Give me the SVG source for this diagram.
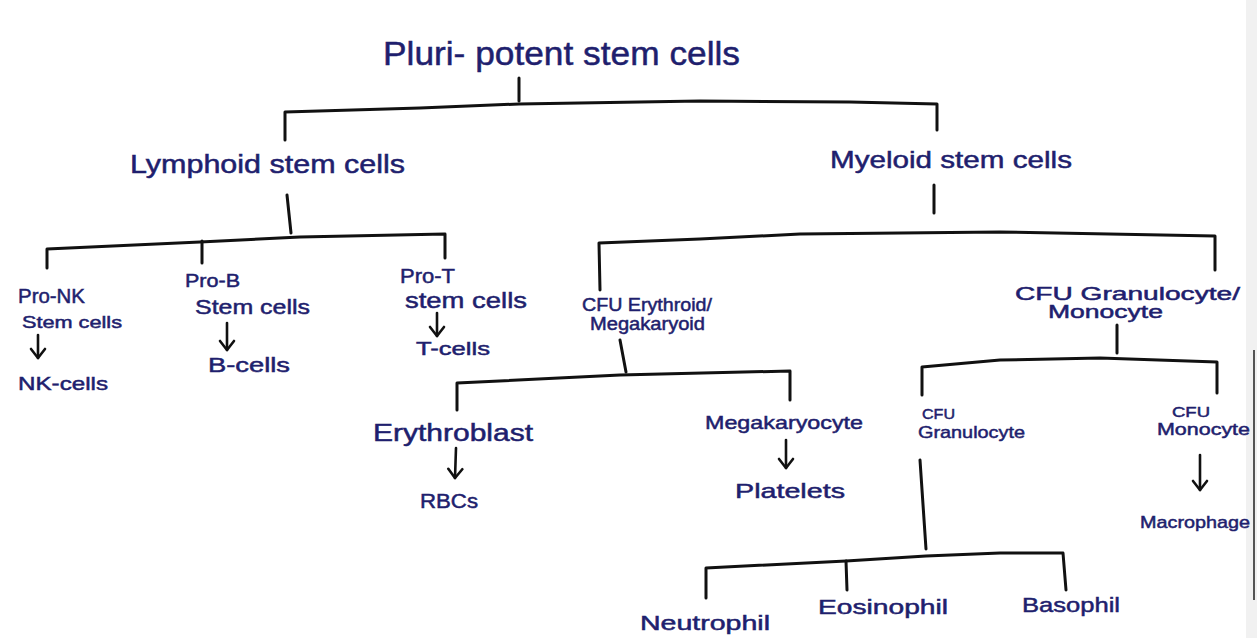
<svg xmlns="http://www.w3.org/2000/svg" width="1257" height="638" viewBox="0 0 1257 638">
<defs>
<style>
.t{font-family:"Liberation Sans","Open Sans",sans-serif;fill:#1f1f6e;stroke:#1f1f6e;stroke-width:0.5;}
.c{fill:none;stroke:#111;stroke-width:3;stroke-linecap:round;stroke-linejoin:round;}
.a{fill:none;stroke:#111;stroke-width:2.6;stroke-linecap:round;stroke-linejoin:round;}
</style>
<marker id="ah" markerUnits="userSpaceOnUse" markerWidth="14" markerHeight="18" refX="11" refY="9" orient="auto" viewBox="0 0 14 18">
<path d="M2,2 L11,9 L2,16" fill="none" stroke="#111" stroke-width="2.6" stroke-linecap="round" stroke-linejoin="round"/>
</marker>
</defs>
<rect width="1257" height="638" fill="#ffffff"/>
<rect x="1246" y="0" width="11" height="638" fill="#f1f1f1"/>
<line x1="1254" y1="350" x2="1254" y2="600" stroke="#555" stroke-width="2"/>

<g id="connectors">
<polyline class="c" points="519,78 519,101"/>
<polyline class="c" points="285,140 285,112 420,108 519,104 700,101 850,102 937,104 937,130"/>
<polyline class="c" points="287,195 291,233"/>
<polyline class="c" points="47,268 47,249 200,242 300,237 445,234 445,258"/>
<polyline class="c" points="202,241 202,263"/>
<polyline class="c" points="934,185 934,213"/>
<polyline class="c" points="600,290 599,243 700,239 800,234 1000,232 1215,236 1215,270"/>
<polyline class="c" points="620,340 626,372"/>
<polyline class="c" points="457,410 457,383 620,375 790,371 790,400"/>
<polyline class="c" points="1117,325 1117,353"/>
<polyline class="c" points="922,395 922,367 1000,360 1100,358 1217,362 1217,393"/>
<polyline class="c" points="920,460 926,549"/>
<polyline class="c" points="706,598 706,568 846,561 926,556 1000,553 1063,553 1066,590"/>
<polyline class="c" points="846,561 847,590"/>
<line class="a" x1="38" y1="335" x2="38" y2="358" marker-end="url(#ah)"/>
<line class="a" x1="227" y1="323" x2="227" y2="350" marker-end="url(#ah)"/>
<line class="a" x1="437" y1="313" x2="437" y2="336" marker-end="url(#ah)"/>
<line class="a" x1="456" y1="448" x2="455" y2="478" marker-end="url(#ah)"/>
<line class="a" x1="786" y1="440" x2="786" y2="468" marker-end="url(#ah)"/>
<line class="a" x1="1200" y1="455" x2="1200" y2="490" marker-end="url(#ah)"/>
</g>

<g id="pluripotent"><text class="t" x="383" y="65" font-size="33" textLength="357" lengthAdjust="spacingAndGlyphs">Pluri- potent stem cells</text></g>
<g id="lymphoid"><text class="t" x="130" y="173" font-size="25" textLength="275" lengthAdjust="spacingAndGlyphs">Lymphoid stem cells</text></g>
<g id="myeloid"><text class="t" x="830" y="168" font-size="24" textLength="242" lengthAdjust="spacingAndGlyphs">Myeloid stem cells</text></g>

<g id="pro-nk">
<text class="t" x="18" y="303" font-size="21" textLength="67" lengthAdjust="spacingAndGlyphs">Pro-NK</text>
<text class="t" x="22" y="328" font-size="17" textLength="100" lengthAdjust="spacingAndGlyphs">Stem cells</text>
</g>
<g id="nk-cells"><text class="t" x="18" y="390" font-size="19" textLength="90" lengthAdjust="spacingAndGlyphs">NK-cells</text></g>

<g id="pro-b">
<text class="t" x="185" y="287" font-size="18" textLength="55" lengthAdjust="spacingAndGlyphs">Pro-B</text>
<text class="t" x="195" y="314" font-size="21" textLength="115" lengthAdjust="spacingAndGlyphs">Stem cells</text>
</g>
<g id="b-cells"><text class="t" x="208" y="372" font-size="20" textLength="82" lengthAdjust="spacingAndGlyphs">B-cells</text></g>

<g id="pro-t">
<text class="t" x="400" y="283" font-size="20" textLength="55" lengthAdjust="spacingAndGlyphs">Pro-T</text>
<text class="t" x="405" y="308" font-size="22" textLength="122" lengthAdjust="spacingAndGlyphs">stem cells</text>
</g>
<g id="t-cells"><text class="t" x="416" y="355" font-size="19" textLength="74" lengthAdjust="spacingAndGlyphs">T-cells</text></g>

<g id="cfu-erythroid">
<text class="t" x="582" y="311" font-size="18" textLength="130" lengthAdjust="spacingAndGlyphs">CFU Erythroid/</text>
<text class="t" x="590" y="330" font-size="18" textLength="115" lengthAdjust="spacingAndGlyphs">Megakaryoid</text>
</g>
<g id="cfu-gm">
<text class="t" x="1015" y="300" font-size="18" textLength="225" lengthAdjust="spacingAndGlyphs">CFU Granulocyte/</text>
<text class="t" x="1048" y="318" font-size="18" textLength="115" lengthAdjust="spacingAndGlyphs">Monocyte</text>
</g>

<g id="erythroblast"><text class="t" x="373" y="441" font-size="23" textLength="160" lengthAdjust="spacingAndGlyphs">Erythroblast</text></g>
<g id="rbcs"><text class="t" x="420" y="508" font-size="20" textLength="58" lengthAdjust="spacingAndGlyphs">RBCs</text></g>
<g id="megakaryocyte"><text class="t" x="705" y="429" font-size="19" textLength="158" lengthAdjust="spacingAndGlyphs">Megakaryocyte</text></g>
<g id="platelets"><text class="t" x="735" y="498" font-size="21" textLength="110" lengthAdjust="spacingAndGlyphs">Platelets</text></g>

<g id="cfu-granulocyte">
<text class="t" x="922" y="419" font-size="15" textLength="33" lengthAdjust="spacingAndGlyphs">CFU</text>
<text class="t" x="918" y="438" font-size="17" textLength="107" lengthAdjust="spacingAndGlyphs">Granulocyte</text>
</g>
<g id="cfu-monocyte">
<text class="t" x="1172" y="417" font-size="15" textLength="38" lengthAdjust="spacingAndGlyphs">CFU</text>
<text class="t" x="1157" y="435" font-size="17" textLength="93" lengthAdjust="spacingAndGlyphs">Monocyte</text>
</g>
<g id="macrophage"><text class="t" x="1140" y="528" font-size="17" textLength="110" lengthAdjust="spacingAndGlyphs">Macrophage</text></g>

<g id="neutrophil"><text class="t" x="640" y="630" font-size="20" textLength="130" lengthAdjust="spacingAndGlyphs">Neutrophil</text></g>
<g id="eosinophil"><text class="t" x="818" y="614" font-size="20" textLength="130" lengthAdjust="spacingAndGlyphs">Eosinophil</text></g>
<g id="basophil"><text class="t" x="1022" y="612" font-size="21" textLength="98" lengthAdjust="spacingAndGlyphs">Basophil</text></g>
</svg>
